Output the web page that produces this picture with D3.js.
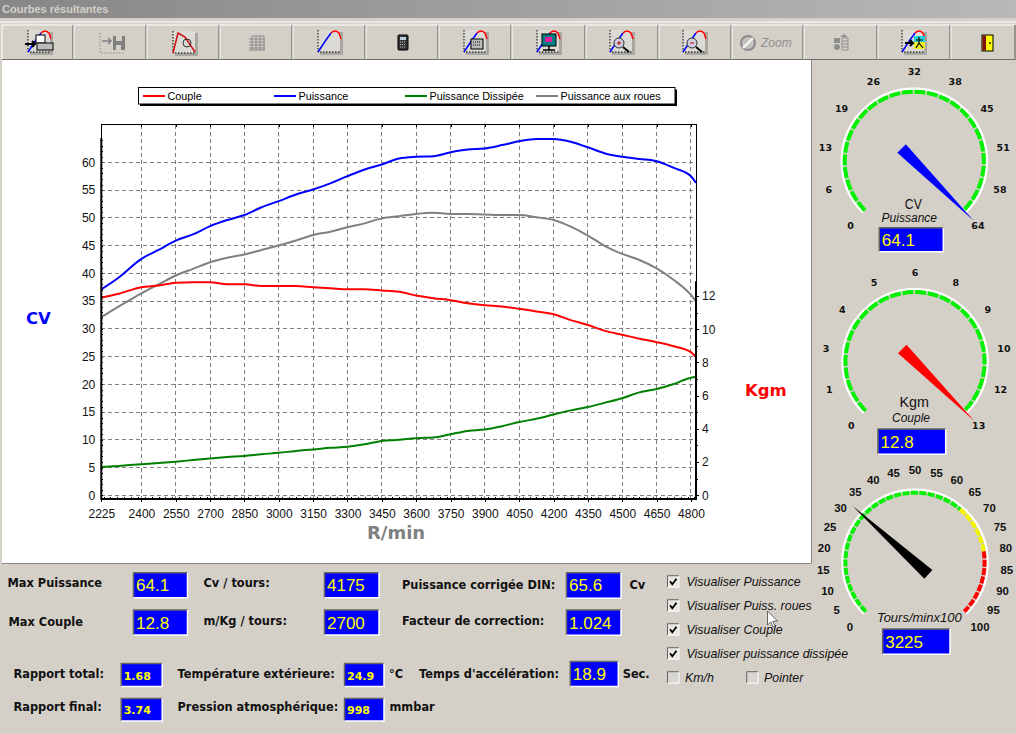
<!DOCTYPE html>
<html>
<head>
<meta charset="utf-8">
<script src="https://cdn.jsdelivr.net/npm/d3@7"></script>
<style>
  body { margin: 0; background: #d4d0c8; overflow: hidden; }
  svg { display: block; font-family: "Liberation Sans", Arial, sans-serif; }
  .lbl { font-family: "DejaVu Sans", sans-serif; font-weight: bold; font-size: 11.4px; fill: #111; }
  .chk { font-size: 12.4px; font-style: italic; fill: #111; }
  .axis text { font-size: 12px; fill: #111; }
  .axis path, .axis line { stroke: #000; shape-rendering: crispEdges; }
  .vgrid, .hgrid { shape-rendering: crispEdges; }
</style>
</head>
<body>
<svg id="viz" width="1016" height="734"></svg>
<script>
// values
const rpm = [2225,2300,2400,2475,2550,2625,2700,2775,2850,2925,3000,3075,3150,3225,3300,3375,3450,3525,3600,3675,3750,3825,3900,3975,4050,4125,4200,4275,4350,4425,4500,4575,4650,4725,4800,4822]
const puissance = [37.1,39.2,42.6,44.2,45.9,47.0,48.5,49.6,50.5,51.9,53.0,54.2,55.1,56.2,57.5,58.7,59.6,60.7,61.0,61.1,61.8,62.3,62.5,63.1,63.8,64.2,64.2,63.7,62.7,61.6,61.0,60.6,60.2,59.0,57.5,56.3]
const roues = [32.1,34.0,36.4,38.0,39.6,40.8,42.0,42.8,43.4,44.2,45.0,45.9,46.9,47.5,48.3,49.0,49.9,50.3,50.7,50.9,50.7,50.7,50.6,50.5,50.5,50.1,49.6,48.4,46.8,44.9,43.5,42.4,40.9,38.8,36.1,34.9]
const dissipee = [5.1,5.3,5.6,5.8,6.05,6.35,6.65,6.9,7.1,7.4,7.65,8.0,8.25,8.55,8.75,9.2,9.8,10.0,10.3,10.4,11.0,11.6,11.85,12.45,13.2,13.8,14.55,15.3,15.9,16.7,17.5,18.55,19.15,20.05,21.2,21.3]
const couple = [11.9,12.13,12.53,12.63,12.8,12.83,12.83,12.7,12.7,12.6,12.6,12.6,12.53,12.47,12.4,12.4,12.33,12.25,12.03,11.87,11.75,11.57,11.45,11.37,11.23,11.07,10.9,10.55,10.25,9.9,9.67,9.43,9.22,8.97,8.62,8.32]

const xTicks = [2225,2400,2550,2700,2850,3000,3150,3300,3450,3600,3750,3900,4050,4200,4350,4500,4650,4800]
const cvTicks = [0,5,10,15,20,25,30,35,40,45,50,55,60]
const kgmTicks = [0,2,4,6,8,10,12]
const legendNames = ["Couple","Puissance","Puissance Dissipée","Puissance aux roues"]

const gaugeCvLabels = [0,6,13,19,26,32,38,45,51,58,64]
const gaugeKgmLabels = [0,1,3,4,5,6,8,9,10,12,13]
const gaugeRpmLabels = [0,5,10,15,20,25,30,35,40,45,50,55,60,65,70,75,80,85,90,95,100]
const gaugeRpmZones = [[0,65,"#00f000"],[65,80,"#f4f400"],[80,100,"#ff0000"]]

const toolbarEdges = [2,74,147,220,293,366,439,512,586,659,732,804,878,951,1016]

const svg = d3.select("svg#viz")
const W = 1016, H = 734
const PLOT = {left: 101.3, right: 696, top: 124.5, bottom: 499}

// window chrome
const defs = svg.append("defs")
const grad = defs.append("linearGradient").attr("id", "titlebar")
grad.append("stop").attr("offset", "0%").attr("stop-color", "#878787")
grad.append("stop").attr("offset", "100%").attr("stop-color", "#b8b8b8")

svg.append("rect").attr("width", W).attr("height", H).attr("fill", "#d4d0c8")
svg.append("rect").attr("width", W).attr("height", 18).attr("fill", "url(#titlebar)")
svg.append("text").attr("x", 2).attr("y", 13).text("Courbes résultantes")
    .attr("font-size", 11).attr("font-weight", "bold").attr("fill", "#d4d0c8")
svg.append("rect").attr("y", 21.5).attr("width", W).attr("height", 1).attr("fill", "#fff")

d3.pairs(toolbarEdges).forEach(([a, b]) => {
    svg.append("path").attr("d", `M${a},59 V25 H${b - 1}`).attr("fill", "none").attr("stroke", "#fff")
    svg.append("path").attr("d", `M${a},59.5 H${b - 1} V25`).attr("fill", "none").attr("stroke", "#6f6d68").attr("stroke-width", 1.2)
})

// little toolbar pictures
function curveIcon(cx, overlay) {
    const g = svg.append("g").attr("transform", `translate(${cx},43)`)
    g.append("rect").attr("x", -10).attr("y", -11).attr("width", 23).attr("height", 23).attr("fill", "#a9a7a1")
    g.append("rect").attr("x", -12).attr("y", -13).attr("width", 22).attr("height", 22).attr("fill", "#dcdad4")
    g.append("path").attr("d", "M-12,-13 V9 H10").attr("fill", "none").attr("stroke", "#000").attr("stroke-dasharray", "1.5 1.5")
    g.append("path").attr("d", "M-12,9 L-4,-3 L1,-10").attr("fill", "none").attr("stroke", "#0000ff").attr("stroke-width", 1.5)
    g.append("path").attr("d", "M1,-10 Q5,-14 9,-10 L11,-4").attr("fill", "none").attr("stroke", "#ff0000").attr("stroke-width", 1.5)
    if (overlay) overlay(g)
    return g
}
curveIcon(40, g => {
    g.append("rect").attr("x", -4).attr("y", -8).attr("width", 9).attr("height", 8).attr("fill", "#fff").attr("stroke", "#000")
    g.append("rect").attr("x", -3).attr("y", 0).attr("width", 16).attr("height", 7).attr("fill", "#bbb").attr("stroke", "#000")
    g.append("path").attr("d", "M-15,1 H-5 M-8,-2 L-5,1 L-8,4").attr("fill", "none").attr("stroke", "#000").attr("stroke-width", 2)
})
const disk = svg.append("g").attr("transform", "translate(111,43)")
disk.append("path").attr("d", "M-11,-10 V10 H14").attr("fill", "none").attr("stroke", "#8a8a8a").attr("stroke-dasharray", "1.5 1.5")
disk.append("path").attr("d", "M-9,-2 H0 M-3,-5 L0,-2 L-3,1").attr("fill", "none").attr("stroke", "#808080").attr("stroke-width", 1.5)
disk.append("path").attr("d", "M2,-7 H5 V-2 H11 V-7 H14 V7 H2 Z M5,2 V7 H10 V2 Z").attr("fill", "#808080").attr("fill-rule", "evenodd")
const clock = svg.append("g").attr("transform", "translate(184,43)")
clock.append("rect").attr("x", -9).attr("y", -10).attr("width", 23).attr("height", 23).attr("fill", "#a9a7a1")
clock.append("rect").attr("x", -11).attr("y", -12).attr("width", 22).attr("height", 22).attr("fill", "#dcdad4")
clock.append("path").attr("d", "M-11,-12 V10 H11").attr("fill", "none").attr("stroke", "#000").attr("stroke-dasharray", "1.5 1.5")
clock.append("path").attr("d", "M-11,10 L-6,-10 L1,-6 L11,9").attr("fill", "none").attr("stroke", "#d01010").attr("stroke-width", 1.5)
clock.append("circle").attr("cx", 3).attr("cy", 0).attr("r", 4).attr("fill", "none").attr("stroke", "#333")
const gridIcon = svg.append("g").attr("transform", "translate(257,43)").attr("stroke", "#8a8a8a").attr("fill", "none")
gridIcon.append("path").attr("d", "M-5,-7 H7 M-8,-4 H8 M-8,-1 H8 M-8,2 H8 M-8,5 H8 M-8,7 H8 M-5,-7 V7 M-1,-7 V7 M3,-7 V7 M7,-7 V7")
curveIcon(330)
const calc = svg.append("g").attr("transform", "translate(403,43)")
calc.append("rect").attr("x", -5).attr("y", -8).attr("width", 10).attr("height", 15).attr("rx", 1).attr("fill", "#333").attr("stroke", "#000")
calc.append("rect").attr("x", -3).attr("y", -6).attr("width", 6).attr("height", 3).attr("fill", "#bcd")
calc.append("path").attr("d", "M-3,-1 H3 M-3,1.5 H3 M-3,4 H3").attr("stroke", "#ccc").attr("stroke-dasharray", "1 1")
curveIcon(476, g => {
    g.append("rect").attr("x", -5).attr("y", -4).attr("width", 12).attr("height", 10).attr("fill", "#bbb").attr("stroke", "#000")
    g.append("path").attr("d", "M-3,-1 H5 M-3,2 H5").attr("stroke", "#000").attr("stroke-dasharray", "1 1")
})
curveIcon(549, g => {
    g.append("rect").attr("x", -7).attr("y", -9).attr("width", 14).attr("height", 12).attr("fill", "#008080").attr("stroke", "#000")
    g.append("rect").attr("x", -4).attr("y", -6).attr("width", 7).attr("height", 5).attr("fill", "#e020a0")
    g.append("path").attr("d", "M-6,7 H6 M0,3 V7").attr("stroke", "#000").attr("stroke-width", 1.5)
})
const lens = (g, mark) => {
    g.append("circle").attr("cx", -3).attr("cy", 0).attr("r", 5).attr("fill", "#cfcfe0").attr("stroke", "#333")
    g.append("path").attr("d", "M1,4 L7,9").attr("stroke", "#000").attr("stroke-width", 2)
    g.append("path").attr("d", mark).attr("stroke", "#d00000").attr("fill", "none")
}
curveIcon(622, g => lens(g, "M-5,0 H-1 M-3,-2 V2"))
curveIcon(695, g => lens(g, "M-5,0 H-1"))
const zoomOff = svg.append("g").attr("transform", "translate(748,43)")
zoomOff.append("circle").attr("r", 7).attr("fill", "#c4c2bc").attr("stroke", "#8c8c8c").attr("stroke-width", 2)
zoomOff.append("path").attr("d", "M-5,5 L5,-5").attr("stroke", "#f0f0f0").attr("stroke-width", 2.5)
zoomOff.append("text").attr("x", 13).attr("y", 4).attr("font-size", 12).attr("font-style", "italic").attr("fill", "#8f8f8f").text("Zoom")
const stack = svg.append("g").attr("transform", "translate(841,43)").attr("fill", "#8f8f8f")
stack.append("rect").attr("x", -7).attr("y", -5).attr("width", 6).attr("height", 5)
stack.append("circle").attr("cx", -4).attr("cy", 4).attr("r", 3)
stack.append("path").attr("d", "M1,-5 H7 V7 H1 Z M1,-2 H7 M1,1 H7 M1,4 H7").attr("fill", "none").attr("stroke", "#8f8f8f")
stack.append("path").attr("d", "M-1,-6 L3,-9 L7,-6 Z")
curveIcon(914, g => {
    g.append("rect").attr("x", 0).attr("y", -7).attr("width", 11).attr("height", 6).attr("fill", "#20d0e0")
    g.append("rect").attr("x", 0).attr("y", -1).attr("width", 11).attr("height", 7).attr("fill", "#f0f020")
    g.append("path").attr("d", "M5,-6 V0 L2,5 M5,0 L9,5 M2,-3 H9").attr("fill", "none").attr("stroke", "#000").attr("stroke-width", 1.2)
    g.append("path").attr("d", "M-9,0 H-1 M-4,-3 L-1,0 L-4,3").attr("fill", "none").attr("stroke", "#000").attr("stroke-width", 2)
})
const door = svg.append("g").attr("transform", "translate(987,43)")
door.append("rect").attr("x", -5).attr("y", -8).attr("width", 11).attr("height", 16).attr("fill", "#ffff00").attr("stroke", "#000")
door.append("rect").attr("x", -4.5).attr("y", -7.5).attr("width", 3.5).attr("height", 15).attr("fill", "#801010")
door.append("circle").attr("cx", 3).attr("cy", 0).attr("r", 0.9).attr("fill", "#000")

// white chart panel
svg.append("rect").attr("x", 2).attr("y", 60).attr("width", 809).attr("height", 503).attr("fill", "#fff")
svg.append("path").attr("d", "M2,563.5 H811.5 V60").attr("fill", "none").attr("stroke", "#8c8a85")

// scales
const xScale = d3.scaleLinear().domain([2225, 4822]).range([PLOT.left, PLOT.right])
const cvScale = d3.scaleLinear().domain([0, 60]).range([495.3, 162.3])
const kgmScale = d3.scaleLinear().domain([0, 12]).range([495.3, 296])

// grid
const chart = svg.append("g")
chart.selectAll("line.vgrid").data(xTicks.slice(1)).join("line").attr("class", "vgrid")
    .attr("x1", d => xScale(d)).attr("x2", d => xScale(d))
    .attr("y1", PLOT.top).attr("y2", PLOT.bottom)
chart.selectAll("line.hgrid").data(cvTicks).join("line").attr("class", "hgrid")
    .attr("x1", PLOT.left).attr("x2", PLOT.right)
    .attr("y1", d => cvScale(d)).attr("y2", d => cvScale(d))
chart.selectAll("line.vgrid, line.hgrid").attr("stroke", "#808080").attr("stroke-dasharray", "4 3")

// frame, thin on the top and upper left
chart.append("path").attr("d", `M${PLOT.left},${PLOT.top} H${PLOT.right} V${PLOT.bottom} M${PLOT.left},${PLOT.top} V${PLOT.bottom}`)
    .attr("fill", "none").attr("stroke", "#000").attr("shape-rendering", "crispEdges")

// curves
const lineOf = (values, yScale) => d3.line()
    .x((d, i) => xScale(rpm[i]))
    .y(d => yScale(d))
    .curve(d3.curveMonotoneX)(values)
const curves = [
    {values: dissipee, scale: cvScale, color: "#008000"},
    {values: roues, scale: cvScale, color: "#808080"},
    {values: couple, scale: kgmScale, color: "#ff0000"},
    {values: puissance, scale: cvScale, color: "#0000ff"}
]
chart.selectAll("path.curve").data(curves).join("path").attr("class", "curve")
    .attr("d", d => lineOf(d.values, d.scale))
    .attr("fill", "none").attr("stroke", d => d.color).attr("stroke-width", 2)

// axes
const bottomAxis = d3.axisBottom(xScale).tickValues(xTicks).tickSize(3).tickPadding(7).tickFormat(d3.format("d"))
const leftAxis = d3.axisLeft(cvScale).tickValues(cvTicks).tickSize(0).tickPadding(6)
const rightAxis = d3.axisRight(kgmScale).tickValues(kgmTicks).tickSize(3).tickPadding(3)
const axes = chart.append("g").attr("class", "axes")
axes.append("g").attr("class", "axis").attr("transform", `translate(0,${PLOT.bottom})`).call(bottomAxis)
    .call(g => g.select(".domain").remove())
axes.append("g").attr("class", "axis").attr("transform", `translate(${PLOT.left},0)`).call(leftAxis)
    .call(g => g.select(".domain").remove())
axes.append("g").attr("class", "axis").attr("transform", `translate(${PLOT.right},0)`).call(rightAxis)
    .call(g => g.select(".domain").remove())

// minor ticks
const minorX = d3.range(2235, 4822, 30)
axes.append("g").attr("class", "axis").attr("transform", `translate(0,${PLOT.bottom})`)
    .call(d3.axisTop(xScale).tickValues(minorX).tickSize(2).tickFormat(""))
    .call(g => g.select(".domain").remove())
axes.append("g").attr("class", "axis").attr("transform", `translate(0,${PLOT.top})`)
    .call(d3.axisBottom(xScale).tickValues(xTicks).tickSize(2).tickFormat(""))
    .call(g => g.select(".domain").remove())
axes.append("g").attr("class", "axis").attr("transform", `translate(${PLOT.left},0)`)
    .call(d3.axisRight(cvScale).tickValues(d3.range(0, 65)).tickSize(2).tickFormat(""))
    .call(g => g.select(".domain").remove())
axes.append("g").attr("class", "axis").attr("transform", `translate(${PLOT.right},0)`)
    .call(d3.axisRight(kgmScale).tickValues(d3.range(1, 13, 2)).tickSize(2).tickFormat(""))
    .call(g => g.select(".domain").remove())

// thick axis lines stop at the maximum of each curve
const maxCv = d3.max(puissance), maxKgm = d3.max(couple)
axes.append("path").attr("d", `M${PLOT.left},${cvScale(maxCv) - 1} V${PLOT.bottom} H${PLOT.right} V${kgmScale(maxKgm) - 1}`)
    .attr("fill", "none").attr("stroke", "#000").attr("stroke-width", 2)

// axis titles
svg.append("text").attr("x", 26).attr("y", 324).text("CV")
    .attr("font-family", "DejaVu Sans").attr("font-size", 16.5).attr("font-weight", "bold").attr("fill", "#0000ff")
svg.append("text").attr("x", 745).attr("y", 396).text("Kgm")
    .attr("font-family", "DejaVu Sans").attr("font-size", 16.5).attr("font-weight", "bold").attr("fill", "#ff0000")
svg.append("text").attr("x", 367).attr("y", 539).text("R/min")
    .attr("font-family", "DejaVu Sans").attr("font-size", 18).attr("font-weight", "bold").attr("fill", "#808080")

// legend
svg.append("rect").attr("x", 140).attr("y", 89.5).attr("width", 537).attr("height", 16.5).attr("fill", "#000")
svg.append("rect").attr("x", 138.5).attr("y", 87.5).attr("width", 536.5).attr("height", 16.5).attr("fill", "#fff").attr("stroke", "#000")
const legendColors = ["#ff0000", "#0000ff", "#008000", "#808080"]
const legendX = [143, 274, 405, 536]
legendNames.forEach((name, i) => {
    svg.append("line").attr("x1", legendX[i]).attr("x2", legendX[i] + 22).attr("y1", 96).attr("y2", 96)
        .attr("stroke", legendColors[i]).attr("stroke-width", 2)
    svg.append("text").attr("x", legendX[i] + 24.5).attr("y", 100).text(name)
        .attr("font-size", 10.8).attr("fill", "#000")
})

// blue read-out boxes
function valueBox(x, y, w, h, txt, small) {
    svg.append("rect").attr("x", x).attr("y", y).attr("width", w).attr("height", h).attr("fill", "#0000ff")
    svg.append("path").attr("d", `M${x},${y + h} V${y} H${x + w}`).attr("fill", "none").attr("stroke", "#66645f").attr("stroke-width", 1.5)
    svg.append("path").attr("d", `M${x},${y + h} H${x + w} V${y}`).attr("fill", "none").attr("stroke", "#fff").attr("stroke-width", 1.5)
    const t = svg.append("text").attr("x", x + 2.5).attr("y", y + h / 2 + (small ? 4.5 : 6)).text(txt).attr("fill", "#ffff00")
    if (small) t.attr("font-family", "DejaVu Sans").attr("font-weight", "bold").attr("font-size", 11)
    else t.attr("font-size", 17)
}

// gauges: the labels are rounded tenths of the scale, so they sit at even angles
function gauge(o) {
    const g = svg.append("g").attr("transform", `translate(${o.cx},${o.cy})`)
    const angle = d3.scaleLinear().domain([0, o.max]).range([-135, 135]).clamp(true)
    const labelAngle = d3.scalePoint().domain(d3.range(o.labels.length)).range([-135, 135])
    const rad = a => (a - 90) * Math.PI / 180
    const arcPath = (a0, a1, r) => {
        const p = d3.path()
        p.arc(0, 0, r, rad(a0), rad(a1))
        return p.toString()
    }
    g.append("path").attr("d", arcPath(-135, 135, 72.6)).attr("fill", "none").attr("stroke", "#fff").attr("stroke-width", 2.4)
    g.append("path").attr("d", arcPath(-135, -133, 69.8)).attr("fill", "none").attr("stroke", "#fff").attr("stroke-width", 5)
    g.append("path").attr("d", arcPath(133, 135, 69.8)).attr("fill", "none").attr("stroke", "#fff").attr("stroke-width", 5)
    o.zones.forEach(z => {
        g.append("path").attr("d", arcPath(angle(z[0]), angle(z[1]), 69.6))
            .attr("fill", "none").attr("stroke", z[2]).attr("stroke-width", 4).attr("stroke-dasharray", o.dash)
    })
    g.selectAll("text.tick").data(o.labels).join("text").attr("class", "tick")
        .attr("x", (d, i) => o.labelR * Math.cos(rad(labelAngle(i))))
        .attr("y", (d, i) => o.labelR * Math.sin(rad(labelAngle(i))) + 4)
        .attr("text-anchor", "middle").text(d => d)
        .attr("font-family", o.labelFont).attr("font-weight", "bold").attr("font-size", o.labelSize).attr("fill", "#111")
    // needle is a long triangle whose wide end sits behind the hub
    const a = rad(angle(o.value))
    const ux = Math.cos(a), uy = Math.sin(a)
    const tip = [84 * ux, 84 * uy]
    const bx = -18 * ux, by = -18 * uy
    g.append("path").attr("d", d3.line()([tip, [bx - 6 * uy, by + 6 * ux], [bx + 6 * uy, by - 6 * ux]]) + "Z")
        .attr("fill", o.color)
    return g
}

gauge({cx: 914.3, cy: 161.3, labels: gaugeCvLabels, max: 64.1, labelR: 90, labelFont: "DejaVu Sans", labelSize: 9.5, value: 64.1, color: "#0000ff", dash: "11 1.6",
    zones: [[0, 64.1, "#00f000"]]})
gauge({cx: 915, cy: 361.7, labels: gaugeKgmLabels, max: 12.8, labelR: 90, labelFont: "DejaVu Sans", labelSize: 9.5, value: 12.8, color: "#ff0000", dash: "11 1.6",
    zones: [[0, 12.8, "#00f000"]]})
gauge({cx: 915, cy: 562.3, labels: gaugeRpmLabels, max: 100, labelR: 92, labelFont: "Liberation Sans", labelSize: 11.4, value: 32.25, color: "#000", dash: "7 1.4",
    zones: gaugeRpmZones})

const gaugeText = (x, y, txt, size, italic, len) => {
    const t = svg.append("text").attr("x", x).attr("y", y).attr("text-anchor", "middle").text(txt)
        .attr("font-size", size).attr("font-style", italic ? "italic" : "normal").attr("fill", "#111")
    if (len) t.attr("textLength", len).attr("lengthAdjust", "spacingAndGlyphs")
}
gaugeText(913.3, 208.5, "CV", 15, false, 17)
gaugeText(909.3, 222, "Puissance", 12, true)
gaugeText(914.3, 407, "Kgm", 15, false, 29.5)
gaugeText(911, 422, "Couple", 12, true)
gaugeText(919.3, 622, "Tours/minx100", 13, true)
valueBox(879.3, 227.7, 64, 24, "64.1")
valueBox(878, 429, 67.7, 25.3, "12.8")
valueBox(882.7, 629, 67.3, 25.3, "3225")

// bottom panel
const lbl = (x, y, txt) => svg.append("text").attr("class", "lbl").attr("x", x).attr("y", y).text(txt)
lbl(7.5, 587, "Max Puissance")
lbl(8.5, 625.5, "Max Couple")
lbl(203.5, 586.5, "Cv / tours:")
lbl(203.5, 625, "m/Kg / tours:")
lbl(402, 589, "Puissance corrigée DIN:")
lbl(402, 624.5, "Facteur de correction:")
lbl(629.5, 589, "Cv")
lbl(13.5, 677.5, "Rapport total:")
lbl(13.5, 710.5, "Rapport final:")
lbl(177.5, 677.5, "Température extérieure:")
lbl(177.5, 710.5, "Pression atmosphérique:")
lbl(389, 677.5, "°C")
lbl(389.5, 710.5, "mmbar")
lbl(419, 677.5, "Temps d'accélération:")
lbl(622.7, 677.5, "Sec.")

valueBox(133.5, 572.7, 54, 25, "64.1")
valueBox(133.5, 610, 54, 25, "12.8")
valueBox(324.5, 572.7, 54.5, 25, "4175")
valueBox(324.5, 610, 54.5, 25, "2700")
valueBox(566.5, 572.7, 54.5, 25.5, "65.6")
valueBox(566.5, 610, 54.5, 25.3, "1.024")
valueBox(570.3, 661.5, 48, 25, "18.9")
valueBox(121.2, 663.5, 41, 23, "1.68", true)
valueBox(121.2, 698.5, 41, 22.5, "3.74", true)
valueBox(344.5, 663.5, 39.5, 23, "24.9", true)
valueBox(344.5, 698.5, 39.5, 22.5, "998", true)

// check boxes
function checkBox(x, y, txt, tx, on) {
    svg.append("rect").attr("x", x).attr("y", y).attr("width", 11.5).attr("height", 11.5).attr("fill", on ? "#e8e6e0" : "#d8d6d0")
    svg.append("path").attr("d", `M${x},${y + 11.5} V${y} H${x + 11.5}`).attr("fill", "none").attr("stroke", "#66645f")
    svg.append("path").attr("d", `M${x},${y + 11.5} H${x + 11.5} V${y}`).attr("fill", "none").attr("stroke", "#fff")
    if (on) svg.append("path").attr("d", `M${x + 2.5},${y + 5.5} L${x + 4.8},${y + 8.5} L${x + 9},${y + 3}`)
        .attr("fill", "none").attr("stroke", "#000").attr("stroke-width", 1.8)
    svg.append("text").attr("class", "chk").attr("x", tx).attr("y", y + 10).text(txt)
}
checkBox(667.5, 575.7, "Visualiser Puissance", 686.5, true)
checkBox(667.5, 599.7, "Visualiser Puiss. roues", 686.5, true)
checkBox(667.5, 623.7, "Visualiser Couple", 686.5, true)
checkBox(667.5, 647.7, "Visualiser puissance dissipée", 686.5, true)
checkBox(667.5, 671.7, "Km/h", 685, false)
checkBox(746.7, 671.7, "Pointer", 764, false)

// mouse pointer left in the screenshot
svg.append("path").attr("transform", "translate(767.5,611)")
    .attr("d", "M0,0 V14 L3.3,11 L5.5,16 L7.5,15 L5.3,10.3 L10,10 Z")
    .attr("fill", "#fff").attr("stroke", "#444").attr("stroke-width", 0.8)
</script>
</body>
</html>
